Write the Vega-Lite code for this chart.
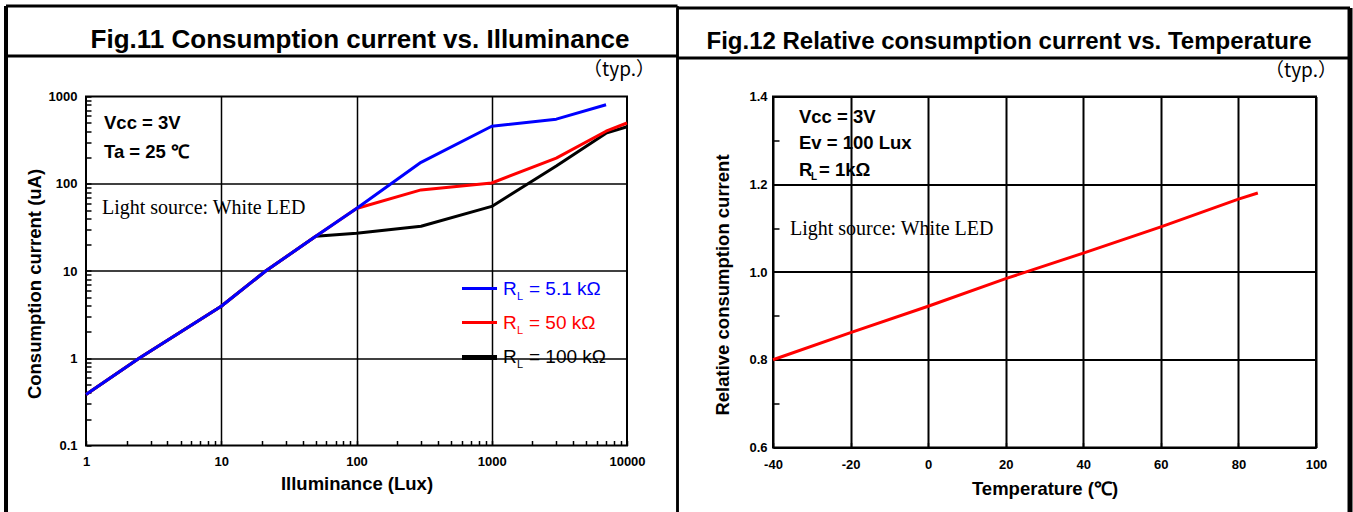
{
  "$schema": "https://vega.github.io/schema/vega-lite/v6.json",
  "background": "white",
  "padding": {"left": 3, "top": 2.5, "right": 0, "bottom": 0},
  "spacing": -6,
  "config": {
    "view": {"stroke": "#000000", "strokeWidth": 2},
    "font": "Liberation Sans",
    "axis": {
      "labelFont": "Liberation Sans", "labelFontWeight": "bold", "labelFontSize": 13, "labelColor": "#000000",
      "titleFont": "Liberation Sans", "titleFontWeight": "bold", "titleFontSize": 18.5, "titleColor": "#000000",
      "domain": false, "tickColor": "#000000", "tickWidth": 1.5, "tickSize": -5, "gridColor": "#000000",
      "labelFlush": false, "labelOverlap": false, "labelBound": false
    }
  },
  "hconcat": [
    {
      "width": 541,
      "height": 349,
      "layer": [
        {
          "data": {"values": [
            {"RL": "100 kΩ", "lux": 1, "uA": 0.384},
            {"RL": "100 kΩ", "lux": 2.47, "uA": 1.0},
            {"RL": "100 kΩ", "lux": 10, "uA": 3.94},
            {"RL": "100 kΩ", "lux": 21.3, "uA": 10},
            {"RL": "100 kΩ", "lux": 50, "uA": 25},
            {"RL": "100 kΩ", "lux": 100, "uA": 27},
            {"RL": "100 kΩ", "lux": 300, "uA": 32.6},
            {"RL": "100 kΩ", "lux": 1000, "uA": 55},
            {"RL": "100 kΩ", "lux": 3000, "uA": 160},
            {"RL": "100 kΩ", "lux": 7000, "uA": 380},
            {"RL": "100 kΩ", "lux": 10000, "uA": 450},
            {"RL": "50 kΩ", "lux": 1, "uA": 0.384},
            {"RL": "50 kΩ", "lux": 2.47, "uA": 1.0},
            {"RL": "50 kΩ", "lux": 10, "uA": 3.94},
            {"RL": "50 kΩ", "lux": 21.3, "uA": 10},
            {"RL": "50 kΩ", "lux": 50, "uA": 25},
            {"RL": "50 kΩ", "lux": 100, "uA": 52},
            {"RL": "50 kΩ", "lux": 300, "uA": 85},
            {"RL": "50 kΩ", "lux": 1000, "uA": 102},
            {"RL": "50 kΩ", "lux": 3000, "uA": 197},
            {"RL": "50 kΩ", "lux": 7000, "uA": 400},
            {"RL": "50 kΩ", "lux": 10000, "uA": 497},
            {"RL": "5.1 kΩ", "lux": 1, "uA": 0.384},
            {"RL": "5.1 kΩ", "lux": 2.47, "uA": 1.0},
            {"RL": "5.1 kΩ", "lux": 10, "uA": 3.94},
            {"RL": "5.1 kΩ", "lux": 21.3, "uA": 10},
            {"RL": "5.1 kΩ", "lux": 50, "uA": 25},
            {"RL": "5.1 kΩ", "lux": 100, "uA": 52},
            {"RL": "5.1 kΩ", "lux": 300, "uA": 176},
            {"RL": "5.1 kΩ", "lux": 1000, "uA": 456},
            {"RL": "5.1 kΩ", "lux": 3000, "uA": 550},
            {"RL": "5.1 kΩ", "lux": 7000, "uA": 805}
          ]},
          "mark": {"type": "line", "strokeWidth": 3, "strokeJoin": "round"},
          "encoding": {
            "x": {
              "field": "lux", "type": "quantitative",
              "scale": {"type": "log", "domain": [1, 10000], "nice": false},
              "axis": {
                "title": "Illuminance (Lux)",
                "values": [1,2,3,4,5,6,7,8,9,10,20,30,40,50,60,70,80,90,100,200,300,400,500,600,700,800,900,1000,2000,3000,4000,5000,6000,7000,8000,9000,10000],
                "grid": true, "gridWidth": 1.5,
                "gridOpacity": {"condition": {"test": "indexof([10,100,1000], datum.value) >= 0", "value": 1}, "value": 0},
                "labelExpr": "indexof([1,10,100,1000,10000], datum.value) >= 0 ? '' + datum.value : ''",
                "labelPadding": 15, "titlePadding": 6
              }
            },
            "y": {
              "field": "uA", "type": "quantitative",
              "scale": {"type": "log", "domain": [0.1, 1000], "nice": false},
              "axis": {
                "title": "Consumption current (uA)",
                "values": [0.1,0.2,0.3,0.4,0.5,0.6,0.7,0.8,0.9,1,2,3,4,5,6,7,8,9,10,20,30,40,50,60,70,80,90,100,200,300,400,500,600,700,800,900,1000],
                "grid": true, "gridWidth": 1.5,
                "gridOpacity": {"condition": {"test": "indexof([1,10,100], datum.value) >= 0", "value": 1}, "value": 0},
                "labelExpr": "indexof([0.1,1,10,100,1000], datum.value) >= 0 ? '' + datum.value : ''",
                "labelPadding": 14, "titlePadding": 4, "titleY": 187
              }
            },
            "color": {
              "field": "RL", "type": "nominal",
              "scale": {"domain": ["100 kΩ", "50 kΩ", "5.1 kΩ"], "range": ["#000000", "#ff0000", "#0000ff"]},
              "legend": null
            }
          }
        },
        {"data": {"values": [{}]}, "mark": {"type": "rule", "color": "#000000", "strokeWidth": 4},
         "encoding": {"x": {"datum": 0.2562}, "y": {"datum": 10896}, "y2": {"datum": 0.01577}}},
        {"data": {"values": [{}]}, "mark": {"type": "rule", "color": "#000000", "strokeWidth": 2.5},
         "encoding": {"x": {"datum": 23630}, "y": {"datum": 10896}, "y2": {"datum": 0.01577}}},
        {"data": {"values": [{}]}, "mark": {"type": "rule", "color": "#000000", "strokeWidth": 3},
         "encoding": {"x": {"datum": 0.2562}, "x2": {"datum": 23630}, "y": {"datum": 10896}}},
        {"data": {"values": [{}]}, "mark": {"type": "rule", "color": "#000000", "strokeWidth": 3},
         "encoding": {"x": {"datum": 0.2562}, "x2": {"datum": 23630}, "y": {"datum": 2912}}},
        {"data": {"values": [{}]}, "mark": {"type": "text", "font": "Liberation Sans", "fontWeight": "bold", "fontSize": 26, "align": "center", "baseline": "middle", "color": "#000000"},
         "encoding": {"x": {"datum": 106.2}, "y": {"datum": 4500}, "text": {"value": "Fig.11 Consumption current vs. Illuminance"}}},
        {"data": {"values": [{}]}, "mark": {"type": "text", "font": "Noto Sans CJK JP", "fontSize": 19, "align": "right", "baseline": "middle", "color": "#000000"},
         "encoding": {"x": {"datum": 16110}, "y": {"datum": 2039}, "text": {"value": "（typ.）"}}},
        {"data": {"values": [{}]}, "mark": {"type": "text", "font": "Liberation Sans", "fontWeight": "bold", "fontSize": 18.5, "align": "left", "baseline": "middle", "color": "#000000"},
         "encoding": {"x": {"datum": 1.359}, "y": {"datum": 490.4}, "text": {"value": "Vcc = 3V"}}},
        {"data": {"values": [{}]}, "mark": {"type": "text", "font": "Liberation Sans", "fontWeight": "bold", "fontSize": 18.5, "align": "left", "baseline": "middle", "color": "#000000"},
         "encoding": {"x": {"datum": 1.359}, "y": {"datum": 234.2}, "text": {"value": "Ta = 25 ℃"}}},
        {"data": {"values": [{}]}, "mark": {"type": "text", "font": "Liberation Serif", "fontSize": 20, "align": "left", "baseline": "middle", "color": "#000000"},
         "encoding": {"x": {"datum": 1.313}, "y": {"datum": 52.04}, "text": {"value": "Light source: White LED"}}},
        {"data": {"values": [{}]}, "mark": {"type": "rule", "color": "#0000ff", "strokeWidth": 3},
         "encoding": {"x": {"datum": 602.6}, "x2": {"datum": 1093.8}, "y": {"datum": 6.30}}},
        {"data": {"values": [{}]}, "mark": {"type": "text", "font": "Liberation Sans", "fontSize": 19, "align": "left", "baseline": "middle", "color": "#0000ff"},
         "encoding": {"x": {"datum": 1211}, "y": {"datum": 6.30}, "text": {"value": "R"}}},
        {"data": {"values": [{}]}, "mark": {"type": "text", "font": "Liberation Sans", "fontSize": 11, "align": "left", "baseline": "middle", "color": "#0000ff", "dx": 14, "dy": 8},
         "encoding": {"x": {"datum": 1211}, "y": {"datum": 6.30}, "text": {"value": "L"}}},
        {"data": {"values": [{}]}, "mark": {"type": "text", "font": "Liberation Sans", "fontSize": 19, "align": "left", "baseline": "middle", "color": "#0000ff", "dx": 26},
         "encoding": {"x": {"datum": 1211}, "y": {"datum": 6.30}, "text": {"value": "= 5.1 kΩ"}}},
        {"data": {"values": [{}]}, "mark": {"type": "rule", "color": "#ff0000", "strokeWidth": 3},
         "encoding": {"x": {"datum": 602.6}, "x2": {"datum": 1093.8}, "y": {"datum": 2.568}}},
        {"data": {"values": [{}]}, "mark": {"type": "text", "font": "Liberation Sans", "fontSize": 19, "align": "left", "baseline": "middle", "color": "#ff0000"},
         "encoding": {"x": {"datum": 1211}, "y": {"datum": 2.568}, "text": {"value": "R"}}},
        {"data": {"values": [{}]}, "mark": {"type": "text", "font": "Liberation Sans", "fontSize": 11, "align": "left", "baseline": "middle", "color": "#ff0000", "dx": 14, "dy": 8},
         "encoding": {"x": {"datum": 1211}, "y": {"datum": 2.568}, "text": {"value": "L"}}},
        {"data": {"values": [{}]}, "mark": {"type": "text", "font": "Liberation Sans", "fontSize": 19, "align": "left", "baseline": "middle", "color": "#ff0000", "dx": 26},
         "encoding": {"x": {"datum": 1211}, "y": {"datum": 2.568}, "text": {"value": "= 50 kΩ"}}},
        {"data": {"values": [{}]}, "mark": {"type": "rule", "color": "#000000", "strokeWidth": 5},
         "encoding": {"x": {"datum": 602.6}, "x2": {"datum": 1093.8}, "y": {"datum": 1.02}}},
        {"data": {"values": [{}]}, "mark": {"type": "text", "font": "Liberation Sans", "fontSize": 19, "align": "left", "baseline": "middle", "color": "#000000"},
         "encoding": {"x": {"datum": 1211}, "y": {"datum": 1.02}, "text": {"value": "R"}}},
        {"data": {"values": [{}]}, "mark": {"type": "text", "font": "Liberation Sans", "fontSize": 11, "align": "left", "baseline": "middle", "color": "#000000", "dx": 14, "dy": 8},
         "encoding": {"x": {"datum": 1211}, "y": {"datum": 1.02}, "text": {"value": "L"}}},
        {"data": {"values": [{}]}, "mark": {"type": "text", "font": "Liberation Sans", "fontSize": 19, "align": "left", "baseline": "middle", "color": "#000000", "dx": 26},
         "encoding": {"x": {"datum": 1211}, "y": {"datum": 1.02}, "text": {"value": "= 100 kΩ"}}}
      ]
    },
    {
      "width": 543,
      "height": 351,
      "layer": [
        {
          "data": {"values": [
            {"temp": -40, "rel": 0.8},
            {"temp": -20, "rel": 0.862},
            {"temp": 0, "rel": 0.922},
            {"temp": 20, "rel": 0.985},
            {"temp": 40, "rel": 1.043},
            {"temp": 60, "rel": 1.103},
            {"temp": 80, "rel": 1.166},
            {"temp": 85, "rel": 1.18}
          ]},
          "mark": {"type": "line", "strokeWidth": 3, "color": "#ff0000"},
          "encoding": {
            "x": {
              "field": "temp", "type": "quantitative",
              "scale": {"domain": [-40, 100], "nice": false, "zero": false},
              "axis": {
                "title": "Temperature (℃)",
                "values": [-40,-30,-20,-10,0,10,20,30,40,50,60,70,80,90,100],
                "grid": true, "gridWidth": 2,
                "gridOpacity": {"condition": {"test": "datum.value % 20 === 0", "value": 1}, "value": 0},
                "labelExpr": "datum.value % 20 === 0 ? '' + datum.value : ''",
                "labelPadding": 16, "titlePadding": 8
              }
            },
            "y": {
              "field": "rel", "type": "quantitative",
              "scale": {"domain": [0.6, 1.4], "nice": false, "zero": false},
              "axis": {
                "title": "Relative consumption current",
                "values": [0.6,0.7,0.8,0.9,1.0,1.1,1.2,1.3,1.4],
                "grid": true, "gridWidth": 2, "tickSize": -6,
                "gridOpacity": {"condition": {"test": "round(datum.value*10) % 2 === 0", "value": 1}, "value": 0},
                "labelExpr": "round(datum.value*10) % 2 === 0 ? format(datum.value, '.1f') : ''",
                "labelPadding": 12, "titlePadding": 16, "titleY": 188
              }
            }
          }
        },
        {"data": {"values": [{}]}, "mark": {"type": "rule", "color": "#000000", "strokeWidth": 2.5},
         "encoding": {"x": {"datum": -64.62}, "y": {"datum": 1.6017}, "y2": {"datum": 0.44046}}},
        {"data": {"values": [{}]}, "mark": {"type": "rule", "color": "#000000", "strokeWidth": 5},
         "encoding": {"x": {"datum": 108.77}, "y": {"datum": 1.6017}, "y2": {"datum": 0.44046}}},
        {"data": {"values": [{}]}, "mark": {"type": "rule", "color": "#000000", "strokeWidth": 3},
         "encoding": {"x": {"datum": -64.62}, "x2": {"datum": 108.77}, "y": {"datum": 1.6017}}},
        {"data": {"values": [{}]}, "mark": {"type": "rule", "color": "#000000", "strokeWidth": 3},
         "encoding": {"x": {"datum": -64.62}, "x2": {"datum": 108.77}, "y": {"datum": 1.4878}}},
        {"data": {"values": [{}]}, "mark": {"type": "text", "font": "Liberation Sans", "fontWeight": "bold", "fontSize": 24, "align": "center", "baseline": "middle", "color": "#000000"},
         "encoding": {"x": {"datum": 20.85}, "y": {"datum": 1.5231}, "text": {"value": "Fig.12 Relative consumption current vs. Temperature"}}},
        {"data": {"values": [{}]}, "mark": {"type": "text", "font": "Noto Sans CJK JP", "fontSize": 19, "align": "right", "baseline": "middle", "color": "#000000"},
         "encoding": {"x": {"datum": 105.41}, "y": {"datum": 1.457}, "text": {"value": "（typ.）"}}},
        {"data": {"values": [{}]}, "mark": {"type": "text", "font": "Liberation Sans", "fontWeight": "bold", "fontSize": 18.5, "align": "left", "baseline": "middle", "color": "#000000"},
         "encoding": {"x": {"datum": -33.3}, "y": {"datum": 1.3544}, "text": {"value": "Vcc = 3V"}}},
        {"data": {"values": [{}]}, "mark": {"type": "text", "font": "Liberation Sans", "fontWeight": "bold", "fontSize": 18.5, "align": "left", "baseline": "middle", "color": "#000000"},
         "encoding": {"x": {"datum": -33.3}, "y": {"datum": 1.2929}, "text": {"value": "Ev = 100 Lux"}}},
        {"data": {"values": [{}]}, "mark": {"type": "text", "font": "Liberation Sans", "fontWeight": "bold", "fontSize": 18.5, "align": "left", "baseline": "middle", "color": "#000000"},
         "encoding": {"x": {"datum": -33.3}, "y": {"datum": 1.2336}, "text": {"value": "R"}}},
        {"data": {"values": [{}]}, "mark": {"type": "text", "font": "Liberation Sans", "fontWeight": "bold", "fontSize": 10, "align": "left", "baseline": "middle", "color": "#000000", "dx": 12, "dy": 7},
         "encoding": {"x": {"datum": -33.3}, "y": {"datum": 1.2336}, "text": {"value": "L"}}},
        {"data": {"values": [{}]}, "mark": {"type": "text", "font": "Liberation Sans", "fontWeight": "bold", "fontSize": 18.5, "align": "left", "baseline": "middle", "color": "#000000", "dx": 20},
         "encoding": {"x": {"datum": -33.3}, "y": {"datum": 1.2336}, "text": {"value": "= 1kΩ"}}},
        {"data": {"values": [{}]}, "mark": {"type": "text", "font": "Liberation Serif", "fontSize": 20, "align": "left", "baseline": "middle", "color": "#000000"},
         "encoding": {"x": {"datum": -35.62}, "y": {"datum": 1.0969}, "text": {"value": "Light source: White LED"}}}
      ]
    }
  ]
}
